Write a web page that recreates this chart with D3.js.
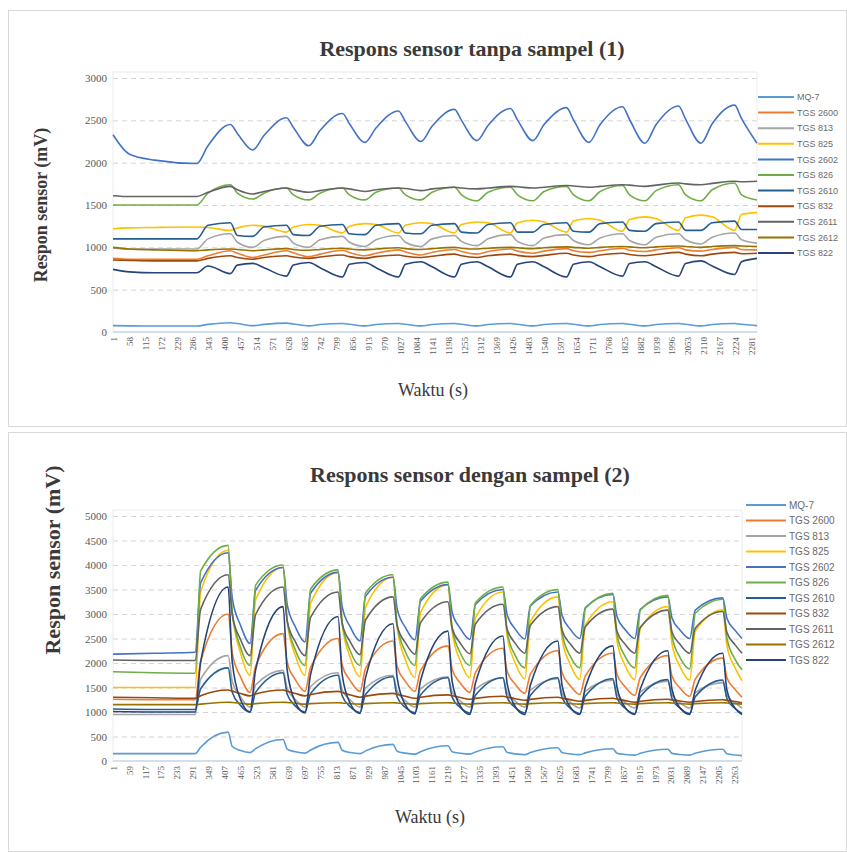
<!DOCTYPE html>
<html>
<head>
<meta charset="utf-8">
<script src="https://cdn.jsdelivr.net/npm/d3@7"></script>
<style>
  body { margin: 0; background: #fff; }
  svg { display: block; }
  .title { font-family: "Liberation Serif", "Times New Roman", serif; font-weight: bold; fill: #3a3a3a; }
  .axis-title { font-family: "Liberation Serif", "Times New Roman", serif; fill: #3a3a3a; }
  .tick text { font-family: "Liberation Serif", serif; fill: #595959; }
  .legend text { font-family: "Liberation Sans", Arial, sans-serif; fill: #6a6a6a; }
</style>
</head>
<body>
<svg id="chart" width="847" height="852"></svg>
<script>
// Legend / series
const seriesNames = ["MQ-7", "TGS 2600", "TGS 813", "TGS 825", "TGS 2602", "TGS 826",
                     "TGS 2610", "TGS 832", "TGS 2611", "TGS 2612", "TGS 822"];
const seriesColors = ["#5B9BD5", "#ED7D31", "#A5A5A5", "#FFC000", "#4472C4", "#70AD47",
                      "#255E91", "#9E480E", "#636363", "#997300", "#264478"];

// Chart 1: tanpa sampel
const xTicks1 = [1, 58, 115, 172, 229, 286, 343, 400, 457, 514, 571, 628, 685, 742, 799, 856,
                 913, 970, 1027, 1084, 1141, 1198, 1255, 1312, 1369, 1426, 1483, 1540, 1597,
                 1654, 1711, 1768, 1825, 1882, 1939, 1996, 2053, 2110, 2167, 2224, 2281];
const yTicks1 = [0, 500, 1000, 1500, 2000, 2500, 3000];
const time1 = [1, 60, 150, 300, 340, 420, 445, 500, 540, 620, 645, 700, 740, 820, 845,
               900, 940, 1020, 1045, 1100, 1140, 1220, 1245, 1300, 1340, 1420, 1445,
               1500, 1540, 1620, 1645, 1700, 1740, 1820, 1845, 1900, 1940, 2020, 2045,
               2100, 2140, 2220, 2245, 2300];

const mq7_1 = [75, 72, 70,
  70, 90, 110, 100, 75, 90, 105, 95, 72, 88, 100, 92, 72, 88, 100, 92, 72, 88, 100, 92,
  72, 88, 100, 92, 72, 88, 100, 92, 72, 88, 100, 92, 72, 88, 100, 92, 72, 88, 100, 92,
  75];
const tgs2600_1 = [870, 860, 860,
  860, 900, 960, 930, 880, 910, 960, 935, 890, 920, 965, 940, 900, 930, 970, 945,
  910, 940, 975, 950, 920, 950, 980, 955, 930, 955, 985, 960, 940, 960, 990, 965,
  950, 970, 995, 970, 955, 975, 1000, 975,
  970];
const tgs813_1 = [990, 980, 980,
  980, 1100, 1160, 1060, 1000, 1080, 1130, 1050, 1000, 1090, 1130, 1060, 1010, 1090, 1140, 1060,
  1010, 1100, 1140, 1070, 1020, 1100, 1150, 1070, 1020, 1110, 1150, 1080, 1030, 1110, 1160, 1080,
  1030, 1120, 1160, 1090, 1040, 1120, 1170, 1090,
  1050];
const tgs825_1 = [1220, 1230, 1235,
  1240, 1235, 1200, 1230, 1260, 1250, 1180, 1240, 1270, 1260, 1170, 1250, 1280, 1270, 1170, 1260,
  1290, 1280, 1170, 1270, 1300, 1290, 1170, 1290, 1320, 1300, 1180, 1310, 1340, 1320, 1190, 1330,
  1360, 1340, 1200, 1350, 1380, 1360, 1200, 1390,
  1410];
const tgs2602_1 = [2330, 2100, 2030,
  1990, 2200, 2450, 2345, 2150, 2320, 2530, 2415, 2200, 2380, 2580, 2460, 2240, 2410, 2610, 2485,
  2250, 2430, 2630, 2500, 2260, 2440, 2640, 2505, 2260, 2450, 2650, 2505, 2240, 2450, 2660, 2510,
  2230, 2450, 2670, 2515, 2230, 2460, 2680, 2520,
  2230];
const tgs826_1 = [1500, 1500, 1500,
  1500, 1640, 1740, 1640, 1570, 1640, 1700, 1620, 1560, 1640, 1700, 1620, 1560, 1650, 1700, 1620,
  1560, 1650, 1710, 1620, 1550, 1650, 1710, 1620, 1550, 1660, 1720, 1620, 1550, 1660, 1730, 1620,
  1550, 1670, 1740, 1620, 1550, 1680, 1760, 1620,
  1560];
const tgs2610_1 = [1100, 1100, 1100,
  1100, 1260, 1290, 1140, 1130, 1240, 1260, 1150, 1140, 1250, 1270, 1160, 1150, 1260, 1280, 1170,
  1160, 1260, 1280, 1180, 1170, 1270, 1290, 1180, 1180, 1270, 1290, 1190, 1180, 1280, 1300, 1200,
  1190, 1280, 1300, 1200, 1200, 1290, 1310, 1210,
  1210];
const tgs832_1 = [850, 845, 840,
  840, 870, 900, 880, 860, 880, 900, 885, 870, 885, 910, 890, 870, 890, 910, 895,
  880, 895, 920, 900, 880, 900, 920, 905, 890, 905, 930, 910, 890, 910, 930, 915,
  900, 915, 940, 920, 900, 920, 940, 925,
  930];
const tgs2611_1 = [1610, 1600, 1600,
  1600, 1650, 1720, 1680, 1630, 1660, 1700, 1680, 1650, 1670, 1700, 1690, 1660, 1680, 1700, 1695,
  1670, 1690, 1710, 1700, 1690, 1700, 1720, 1715, 1700, 1710, 1730, 1725, 1710, 1720, 1740, 1735,
  1720, 1735, 1760, 1750, 1740, 1755, 1780, 1775,
  1780];
const tgs2612_1 = [1000, 980, 970,
  960, 970, 980, 975, 960, 970, 985, 975, 965, 975, 990, 980, 970, 980, 995, 985,
  975, 985, 1000, 990, 980, 990, 1000, 995, 985, 995, 1005, 1000, 990, 1000, 1010, 1005,
  995, 1005, 1015, 1010, 1000, 1010, 1020, 1015,
  1010];
const tgs822_1 = [740, 710, 700,
  700, 780, 690, 790, 810, 760, 660, 790, 820, 760, 650, 800, 820, 760, 650, 800,
  830, 770, 650, 800, 830, 770, 650, 800, 830, 770, 650, 800, 830, 770, 660, 810,
  830, 770, 660, 810, 840, 780, 680, 830,
  870];

// Chart 2: dengan sampel
const xTicks2 = [1, 59, 117, 175, 233, 291, 349, 407, 465, 523, 581, 639, 697, 755, 813, 871,
                 929, 987, 1045, 1103, 1161, 1219, 1277, 1335, 1393, 1451, 1509, 1567, 1625,
                 1683, 1741, 1799, 1857, 1915, 1973, 2031, 2089, 2147, 2205, 2263];
const yTicks2 = [0, 500, 1000, 1500, 2000, 2500, 3000, 3500, 4000, 4500, 5000];
const time2 = [1, 150, 300, 320, 420, 435, 465, 500, 520, 620, 635, 665, 700, 720, 820, 835, 865,
               900, 920, 1020, 1035, 1065, 1100, 1120, 1220, 1235, 1265, 1300, 1320, 1420, 1435, 1465,
               1500, 1520, 1620, 1635, 1665, 1700, 1720, 1820, 1835, 1865, 1900, 1920, 2020, 2035, 2065,
               2100, 2120, 2220, 2235, 2265, 2290];

const mq7_2 = [150, 150,
  150, 282, 590, 296, 212, 170, 251, 440, 244, 188, 160, 226, 380, 219, 173,
  150, 207, 340, 200, 160, 140, 191, 310, 191, 157, 140, 185, 290, 178, 146,
  130, 172, 270, 172, 144, 130, 166, 250, 159, 133, 120, 156, 240, 156, 132,
  120, 156, 240, 149, 123,
  110];
const tgs2600_2 = [1260, 1250,
  1250, 2040, 3000, 2200, 1720, 1400, 1940, 2600, 2010, 1656, 1420, 1906, 2500, 1960, 1636,
  1420, 1884, 2450, 1935, 1626, 1420, 1839, 2350, 1875, 1590, 1400, 1805, 2300, 1840, 1564,
  1380, 1772, 2250, 1805, 1538, 1360, 1738, 2200, 1770, 1512, 1340, 1705, 2150, 1735, 1486,
  1320, 1671, 2100, 1700, 1460,
  1300];
const tgs813_2 = [950, 950,
  950, 1670, 2150, 1625, 1310, 1100, 1550, 1850, 1475, 1250, 1100, 1520, 1800, 1450, 1240,
  1100, 1490, 1750, 1425, 1230, 1100, 1472, 1720, 1410, 1224, 1100, 1460, 1700, 1400, 1220,
  1100, 1448, 1680, 1380, 1200, 1080, 1422, 1650, 1365, 1194, 1080, 1410, 1630, 1355, 1190,
  1080, 1392, 1600, 1340, 1184,
  1080];
const tgs825_2 = [1500, 1500,
  1500, 3460, 4300, 3025, 2210, 1750, 3290, 3950, 2850, 2146, 1750, 3220, 3850, 2785, 2103,
  1720, 3141, 3750, 2725, 2069, 1700, 3030, 3600, 2650, 2042, 1700, 2925, 3450, 2565, 1999,
  1680, 2849, 3350, 2510, 1973, 1670, 2776, 3250, 2455, 1946, 1660, 2703, 3150, 2400, 1920,
  1650, 2651, 3080, 2360, 1899,
  1640];
const tgs2602_2 = [2180, 2200,
  2220, 3635, 4250, 3325, 2770, 2400, 3485, 3950, 3190, 2734, 2430, 3424, 3850, 3150, 2730,
  2450, 3360, 3750, 3110, 2726, 2470, 3261, 3600, 3040, 2704, 2480, 3194, 3500, 2995, 2692,
  2490, 3162, 3450, 2975, 2690, 2500, 3130, 3400, 2950, 2680, 2500, 3095, 3350, 2925, 2670,
  2500, 3081, 3330, 2915, 2666,
  2500];
const tgs826_2 = [1820, 1800,
  1790, 3880, 4400, 3050, 2320, 1950, 3590, 4000, 2870, 2260, 1950, 3510, 3900, 2830, 2240,
  1950, 3430, 3800, 2780, 2230, 1950, 3310, 3650, 2715, 2205, 1950, 3230, 3550, 2640, 2150,
  1900, 3180, 3500, 2620, 2140, 1900, 3115, 3420, 2585, 2130, 1900, 3085, 3380, 2555, 2105,
  1880, 3015, 3300, 2510, 2075,
  1860];
const tgs2610_2 = [1060, 1050,
  1050, 1475, 1900, 1405, 1135, 1000, 1400, 1800, 1360, 1120, 1000, 1375, 1750, 1332, 1104,
  990, 1355, 1720, 1313, 1091, 990, 1345, 1700, 1304, 1088, 980, 1340, 1700, 1304, 1088,
  980, 1340, 1700, 1298, 1079, 970, 1325, 1680, 1289, 1076, 970, 1315, 1660, 1280, 1073,
  970, 1310, 1650, 1276, 1072,
  970];
const tgs832_2 = [1300, 1290,
  1280, 1331, 1450, 1426, 1378, 1330, 1366, 1450, 1426, 1378, 1330, 1357, 1420, 1396, 1348,
  1300, 1324, 1380, 1360, 1320, 1280, 1301, 1350, 1332, 1296, 1260, 1278, 1320, 1304, 1272,
  1240, 1258, 1300, 1284, 1252, 1220, 1238, 1280, 1264, 1232, 1200, 1218, 1260, 1248, 1224,
  1200, 1215, 1250, 1238, 1214,
  1190];
const tgs2611_2 = [2060, 2050,
  2050, 3100, 3800, 2975, 2480, 2150, 2990, 3550, 2850, 2430, 2150, 2930, 3450, 2810, 2426,
  2170, 2878, 3350, 2765, 2414, 2180, 2822, 3250, 2720, 2402, 2190, 2796, 3200, 2700, 2400,
  2200, 2770, 3150, 2675, 2390, 2200, 2740, 3100, 2650, 2380, 2200, 2728, 3080, 2640, 2376,
  2200, 2710, 3050, 2625, 2370,
  2200];
const tgs2612_2 = [1150, 1150,
  1150, 1160, 1200, 1195, 1180, 1160, 1170, 1200, 1195, 1180, 1160, 1170, 1190, 1185, 1170,
  1160, 1170, 1190, 1185, 1170, 1160, 1170, 1190, 1185, 1170, 1160, 1170, 1190, 1185, 1170,
  1160, 1170, 1190, 1185, 1170, 1160, 1170, 1190, 1185, 1170, 1160, 1170, 1190, 1185, 1170,
  1160, 1170, 1190, 1185, 1170,
  1160];
const tgs822_2 = [1010, 1000,
  1000, 2020, 3550, 2020, 1255, 1000, 1860, 3150, 1848, 1197, 980, 1768, 2950, 1762, 1168,
  970, 1702, 2800, 1696, 1144, 960, 1636, 2650, 1630, 1120, 950, 1590, 2550, 1590, 1110,
  950, 1550, 2450, 1550, 1100, 950, 1510, 2350, 1510, 1090, 950, 1470, 2250, 1470, 1080,
  950, 1450, 2200, 1450, 1075,
  950];

const svg = d3.select("#chart");
const plainNumber = d3.format("d");

function drawChart(cfg) {
    const g = svg.append("g");

    g.append("rect")
        .attr("x", cfg.panel[0] + 0.5)
        .attr("y", cfg.panel[1] + 0.5)
        .attr("width", cfg.panel[2])
        .attr("height", cfg.panel[3])
        .attr("fill", "#fff")
        .attr("stroke", "#d9d9d9");

    const x = d3.scaleLinear().domain([1, cfg.n]).range([cfg.left, cfg.right]);
    const y = d3.scaleLinear().domain([0, cfg.yMax]).range([cfg.bottom, cfg.top]);

    // gridlines
    g.append("g")
        .attr("transform", "translate(" + cfg.left + ",0)")
        .call(d3.axisLeft(y).tickValues(cfg.yTicks.filter((v) => v > 0))
            .tickSize(-(cfg.right - cfg.left)).tickFormat(""))
        .call((s) => s.select(".domain").remove())
        .call((s) => s.selectAll("line")
            .attr("stroke", "#d4d4d4")
            .attr("stroke-dasharray", "5,4"));

    // plot area frame
    g.append("rect")
        .attr("x", cfg.left)
        .attr("y", cfg.top - 6)
        .attr("width", cfg.right - cfg.left)
        .attr("height", cfg.bottom - cfg.top + 6)
        .attr("fill", "none")
        .attr("stroke", "#ececec");

    // y axis labels
    g.append("g")
        .attr("transform", "translate(" + cfg.left + ",0)")
        .call(d3.axisLeft(y).tickValues(cfg.yTicks).tickSize(0).tickPadding(6)
            .tickFormat(plainNumber))
        .call((s) => s.select(".domain").remove())
        .call((s) => s.selectAll("text").style("font-size", "11px"));

    // x axis
    const xAxis = g.append("g")
        .attr("transform", "translate(0," + cfg.bottom + ")")
        .call(d3.axisBottom(x).tickValues(cfg.xTicks).tickSize(0).tickFormat(plainNumber));
    xAxis.select(".domain").attr("stroke", "#c9d7e6").attr("stroke-width", 1.5)
        .attr("d", "M" + cfg.left + ",0H" + cfg.right);
    xAxis.selectAll("text")
        .style("font-size", "9px")
        .attr("text-anchor", "end")
        .attr("transform", "rotate(-90)")
        .attr("x", -5)
        .attr("y", 0)
        .attr("dy", "0.35em");

    // lines
    const line = d3.line()
        .x((d) => x(d[0]))
        .y((d) => y(d[1]))
        .curve(d3.curveMonotoneX);

    cfg.series.forEach((values, i) => {
        g.append("path")
            .datum(cfg.time.map((t, j) => [t, values[j]]))
            .attr("fill", "none")
            .attr("stroke", seriesColors[i])
            .attr("stroke-width", 1.6)
            .attr("stroke-linejoin", "round")
            .attr("d", line);
    });

    // titles
    g.append("text")
        .attr("class", "title")
        .attr("x", cfg.titleX)
        .attr("y", cfg.titleY)
        .attr("text-anchor", "middle")
        .style("font-size", "22px")
        .text(cfg.title);

    g.append("text")
        .attr("class", "axis-title")
        .attr("x", cfg.xTitleX)
        .attr("y", cfg.xTitleY)
        .attr("text-anchor", "middle")
        .style("font-size", "18px")
        .text("Waktu (s)");

    g.append("text")
        .attr("class", "title")
        .attr("transform", "translate(" + cfg.yTitleX + "," + cfg.yTitleY + ") rotate(-90)")
        .attr("text-anchor", "middle")
        .style("font-size", cfg.yTitleSize + "px")
        .text("Respon sensor (mV)");

    // legend
    const legend = g.append("g").attr("class", "legend");
    seriesNames.forEach((name, i) => {
        const ly = cfg.legendY + i * cfg.legendStep;
        legend.append("line")
            .attr("x1", cfg.legendX)
            .attr("x2", cfg.legendX + cfg.legendLine)
            .attr("y1", ly)
            .attr("y2", ly)
            .attr("stroke", seriesColors[i])
            .attr("stroke-width", 2);
        legend.append("text")
            .attr("x", cfg.legendX + cfg.legendLine + 3)
            .attr("y", ly)
            .attr("dy", "0.35em")
            .style("font-size", cfg.legendFont + "px")
            .text(name);
    });
}

drawChart({
    panel: [8, 10, 838, 416],
    left: 113, right: 757, top: 78, bottom: 332,
    n: 2300, yMax: 3000,
    xTicks: xTicks1, yTicks: yTicks1, time: time1,
    series: [mq7_1, tgs2600_1, tgs813_1, tgs825_1, tgs2602_1, tgs826_1,
             tgs2610_1, tgs832_1, tgs2611_1, tgs2612_1, tgs822_1],
    title: "Respons sensor tanpa sampel (1)", titleX: 472, titleY: 56,
    xTitleX: 433, xTitleY: 396, yTitleX: 47, yTitleY: 205, yTitleSize: 18,
    legendX: 758, legendY: 97, legendStep: 15.6, legendLine: 36, legendFont: 9
});

drawChart({
    panel: [8, 432, 838, 419],
    left: 113, right: 742, top: 516, bottom: 761,
    n: 2290, yMax: 5000,
    xTicks: xTicks2, yTicks: yTicks2, time: time2,
    series: [mq7_2, tgs2600_2, tgs813_2, tgs825_2, tgs2602_2, tgs826_2,
             tgs2610_2, tgs832_2, tgs2611_2, tgs2612_2, tgs822_2],
    title: "Respons sensor dengan sampel (2)", titleX: 470, titleY: 482,
    xTitleX: 430, xTitleY: 823, yTitleX: 60, yTitleY: 560, yTitleSize: 22,
    legendX: 746, legendY: 505, legendStep: 15.5, legendLine: 40, legendFont: 10
});
</script>
</body>
</html>
